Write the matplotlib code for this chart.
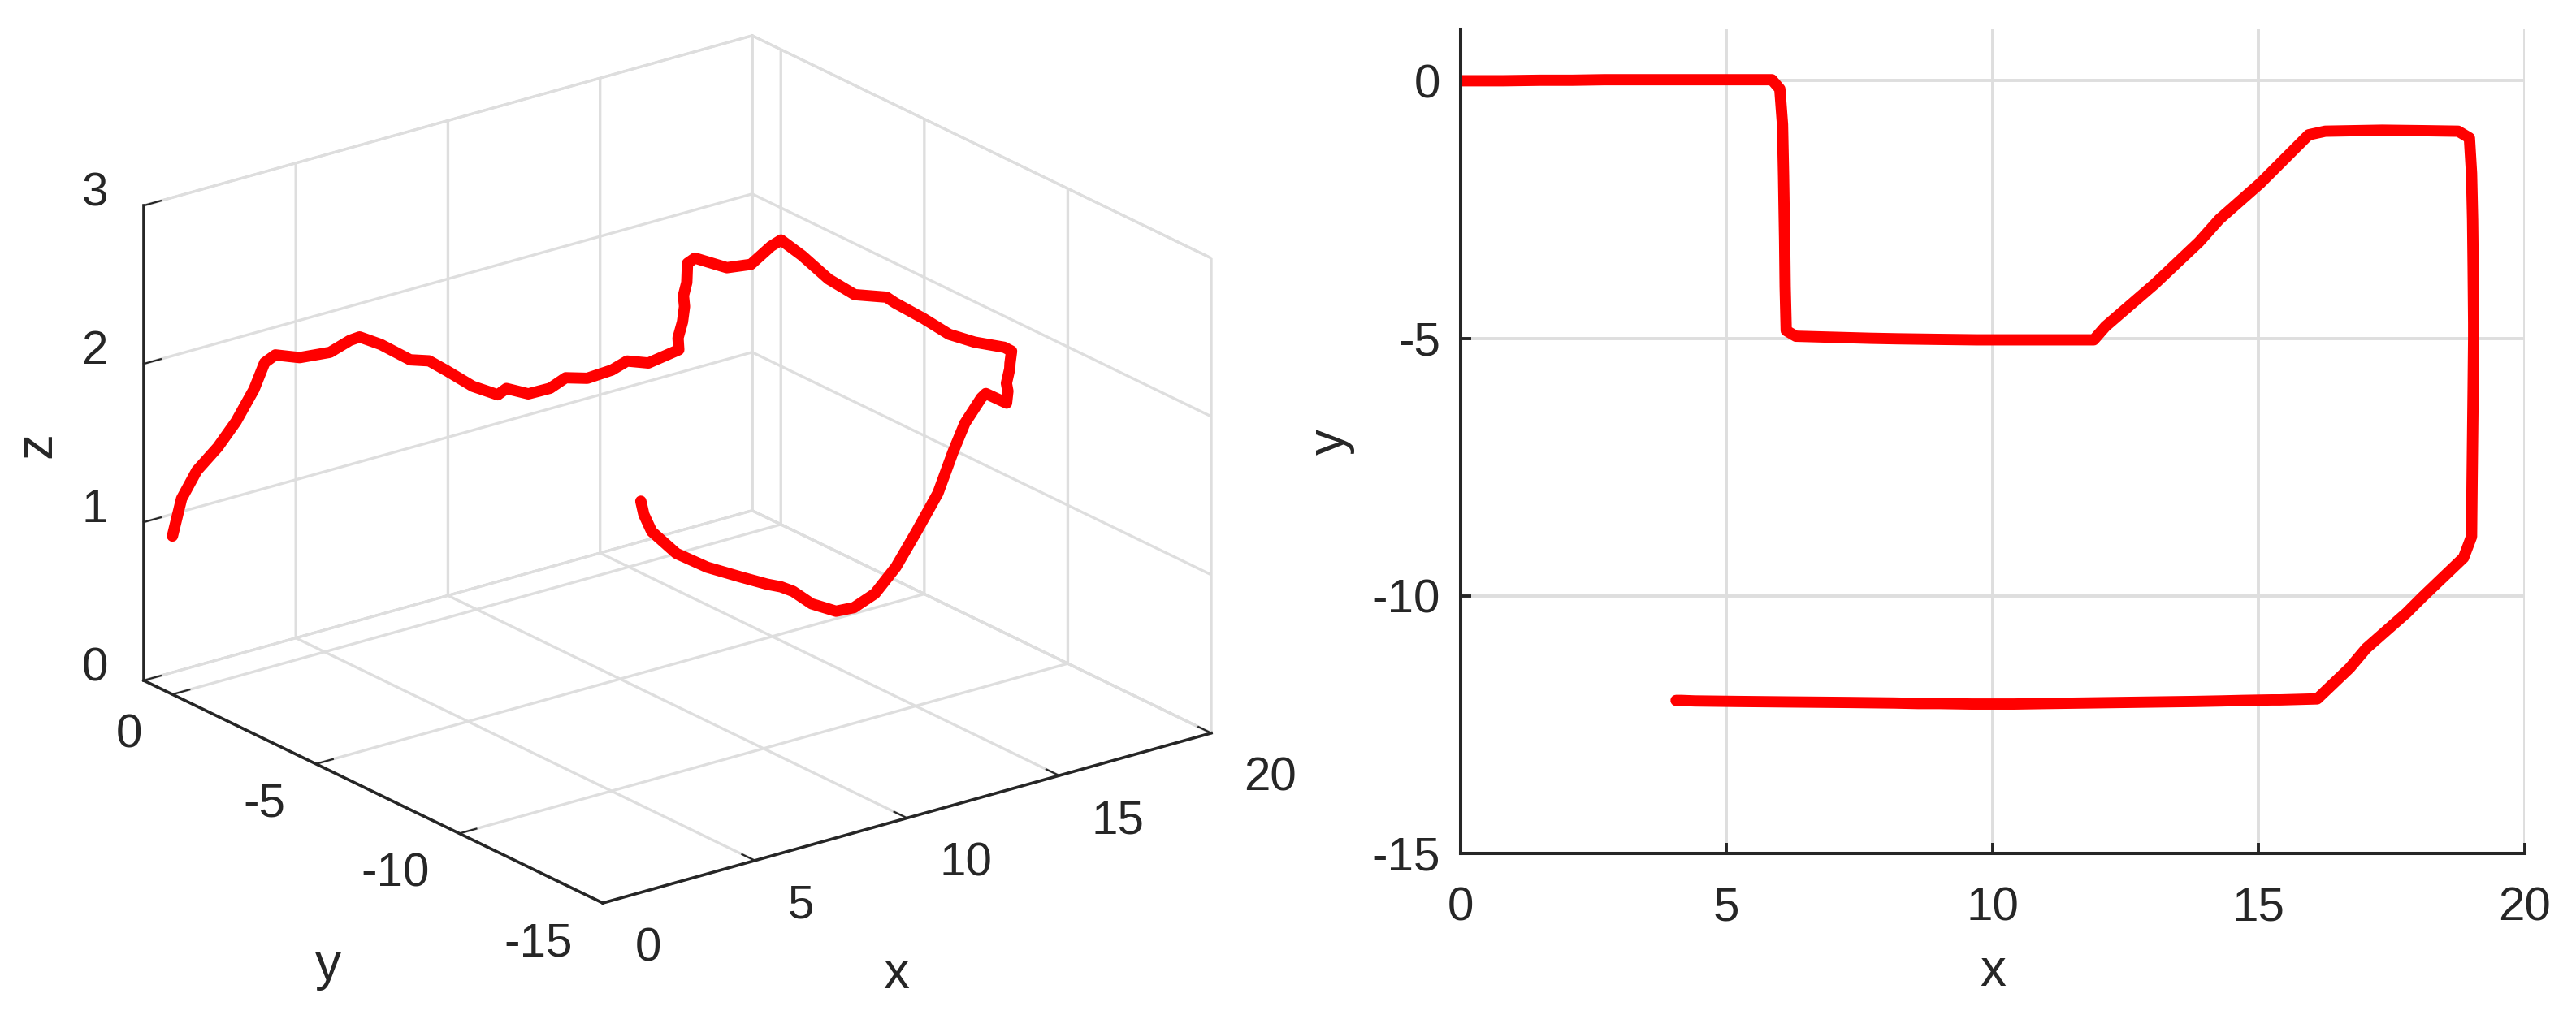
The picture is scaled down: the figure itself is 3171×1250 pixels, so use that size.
import numpy as np
import matplotlib
matplotlib.use('Agg')
import matplotlib.pyplot as plt
from mpl_toolkits.mplot3d import proj3d

# trajectory (x, y from the top view, z from the 3D view)
x = [0.00, 0.30, 0.80, 1.50, 2.10, 2.70, 3.05, 3.40, 4.20, 5.20, 5.85, 6.00,
     6.05, 6.07, 6.08, 6.09, 6.10, 6.12, 6.30, 7.00, 7.70, 8.20, 8.90, 9.70,
     10.20, 10.90, 11.90, 12.12, 13.04, 13.88, 14.26, 15.03, 15.94, 16.25,
     17.32, 18.10, 18.75, 18.96, 19.00, 19.02, 19.03, 19.04, 19.04, 19.03,
     19.02, 19.01, 19.00, 18.85, 18.09, 17.78, 17.02, 16.71, 16.10, 15.40,
     15.25, 14.70, 14.30, 13.80, 13.10, 12.40, 11.70, 11.00, 10.40, 9.60,
     9.00, 8.60, 8.15, 7.30, 6.20, 5.20, 4.40, 4.15, 4.05]
y = [0.00, 0.00, 0.00, 0.01, 0.01, 0.02, 0.02, 0.02, 0.02, 0.02, 0.02, -0.16,
     -0.85, -1.85, -2.50, -3.10, -4.00, -4.85, -4.96, -4.98, -5.00, -5.01,
     -5.02, -5.03, -5.03, -5.03, -5.03, -4.77, -3.95, -3.13, -2.69, -1.99,
     -1.05, -0.98, -0.96, -0.97, -0.98, -1.11, -1.80, -2.70, -3.60, -4.70,
     -5.00, -6.00, -6.90, -7.80, -8.85, -9.26, -10.01, -10.33, -11.02, -11.40,
     -12.00, -12.02, -12.02, -12.03, -12.04, -12.05, -12.06, -12.07, -12.08,
     -12.09, -12.10, -12.10, -12.09, -12.09, -12.08, -12.07, -12.06, -12.05,
     -12.04, -12.03, -12.03]
z = [1.00, 1.22, 1.37, 1.48, 1.61, 1.78, 1.93, 1.96, 1.90, 1.88, 1.92, 1.95,
     1.96, 1.95, 2.00, 1.99, 1.97, 1.99, 2.03, 1.96, 1.96, 2.00, 1.96, 1.97,
     2.00, 1.95, 1.98, 2.02, 2.00, 1.98, 1.99, 1.97, 1.96, 1.97, 1.85, 1.83,
     1.91, 1.95, 1.91, 1.84, 1.82, 1.90, 1.89, 1.88, 1.86, 1.89, 1.95, 1.97,
     2.00, 2.01, 2.02, 2.02, 2.03, 2.13, 2.11, 1.98, 1.82, 1.59, 1.39, 1.20,
     1.07, 1.02, 1.03, 1.12, 1.23, 1.28, 1.32, 1.41, 1.53, 1.67, 1.85, 1.97,
     2.06]

x_ticks = [0, 5, 10, 15, 20]
y_ticks = [-15, -10, -5, 0]
z_ticks = [0, 1, 2, 3]

dark = '#262626'
grid = '#dedede'
plt.rcParams.update({
    'font.family': ['Liberation Sans', 'DejaVu Sans'],
    'font.size': 21,
    'axes.unicode_minus': False,
    'text.color': dark,
    'axes.labelcolor': dark,
    'axes.edgecolor': dark,
    'axes.linewidth': 1.45,
    'xtick.color': dark,
    'ytick.color': dark,
    'grid.color': grid,
    'grid.linewidth': 1.4,
})

W, H = 3171, 1250
fig = plt.figure(figsize=(W / 200, H / 200), dpi=200)

# ---------------- 3D view ----------------
ax3 = fig.add_axes([0.02, 0.0, 0.5, 1.0], projection='3d', proj_type='ortho')
ax3.plot(x, y, z, color='red', linewidth=5, solid_capstyle='round',
         solid_joinstyle='round')
ax3.set_xlim(0, 20)
ax3.set_ylim(-15, 1)
ax3.set_zlim(0, 3)
ax3.set_xticks(x_ticks)
ax3.set_yticks(y_ticks)
ax3.set_zticks(z_ticks)
ax3.set_xticklabels([])
ax3.set_yticklabels([])
ax3.set_zticklabels([])
ax3.view_init(elev=21.6, azim=-127.2)
ax3.set_box_aspect((1, 0.994, 0.669))
for axis in (ax3.xaxis, ax3.yaxis, ax3.zaxis):
    axis.set_pane_color((1, 1, 1, 1))
    axis.pane.set_edgecolor('#cfcfcf')
    axis.line.set_color(dark)
    axis.line.set_linewidth(1.3)
    axis._axinfo['grid']['color'] = grid
    axis._axinfo['grid']['linewidth'] = 1.2
    axis._axinfo['tick']['inward_factor'] = 0.0
    axis._axinfo['tick']['outward_factor'] = 0.35

# fit the projected box onto the reference box corners
corners = [(0, 1, 0), (0, -15, 0), (20, -15, 0), (0, 1, 3)]
target = np.array([(177, 838), (742, 1112), (1491, 903), (177, 253)], float)
target[:, 1] = H - target[:, 1]


def to_px(pts):
    M = ax3.get_proj()
    out = []
    for cx, cy, cz in pts:
        px, py, _ = proj3d.proj_transform(cx, cy, cz, M)
        out.append(ax3.transData.transform((px, py)))
    return np.array(out)


for _ in range(3):
    fig.canvas.draw()
    P = to_px(corners)
    bb = ax3.get_position()
    c = np.array([(bb.x0 + bb.width / 2) * W, (bb.y0 + bb.height / 2) * H])
    Pm, Tm = P.mean(0), target.mean(0)
    s = ((P - Pm) * (target - Tm)).sum() / ((P - Pm) ** 2).sum()
    nc = Tm - s * (Pm - c)
    w, h = bb.width * s, bb.height * s
    ax3.set_position([nc[0] / W - w / 2, nc[1] / H - h / 2, w, h])

fig.canvas.draw()
# tick labels placed MATLAB-like next to the projected tick positions
for t, (px, py) in zip(x_ticks, to_px([(t, -15, 0) for t in x_ticks])):
    fig.text((px + 40) / W, (py - 56) / H, str(t), ha='left', va='center')
for t, (px, py) in zip(y_ticks, to_px([(0, t, 0) for t in y_ticks])):
    fig.text((px - 37) / W, (py - 50) / H, str(t), ha='right', va='center')
for t, (px, py) in zip(z_ticks, to_px([(0, 1, t) for t in z_ticks])):
    fig.text((px - 44) / W, (py + 15) / H, str(t), ha='right', va='center')
fig.text(1103 / W, 1 - 1200 / H, 'x', fontsize=23, ha='center', va='center')
fig.text(404 / W, 1 - 1190 / H, 'y', fontsize=23, ha='center', va='center')
fig.text(45 / W, 1 - 548 / H, 'z', fontsize=23, ha='center', va='center',
         rotation=90)

# ---------------- top view ----------------
ax2 = fig.add_axes([0.567, 0.1592, 0.4131, 0.812])
ax2.plot(x, y, color='red', linewidth=5, solid_capstyle='round',
         solid_joinstyle='round')
ax2.set_xlim(0, 20)
ax2.set_ylim(-15, 1)
ax2.set_xticks(x_ticks)
ax2.set_yticks(y_ticks)
ax2.grid(True)
ax2.set_axisbelow(True)
ax2.spines['top'].set_visible(False)
ax2.spines['right'].set_visible(False)
ax2.tick_params(direction='in', length=4.8, width=1.4, labelsize=21)
ax2.tick_params(axis='x', pad=14.5)
ax2.tick_params(axis='y', pad=9)
ax2.set_xlabel('x', fontsize=23, labelpad=8)
ax2.set_ylabel('y', fontsize=23, labelpad=7.5)

fig.savefig('out.png', dpi=200)
